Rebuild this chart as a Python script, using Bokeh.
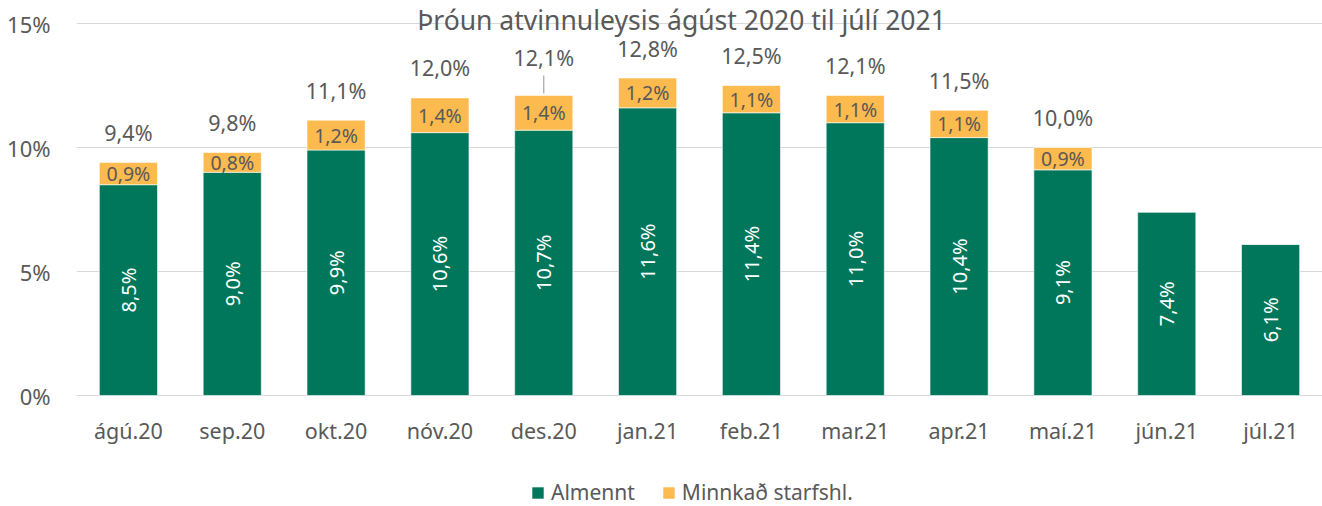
import math
from bokeh.plotting import figure
from bokeh.models import ColumnDataSource, Label, Legend, LegendItem, FixedTicker, Range1d
from bokeh.core.properties import value
from bokeh.embed import file_html
from bokeh.resources import INLINE

months = ["ágú.20", "sep.20", "okt.20", "nóv.20", "des.20", "jan.21",
          "feb.21", "mar.21", "apr.21", "maí.21", "jún.21", "júl.21"]
almennt = [8.5, 9.0, 9.9, 10.6, 10.7, 11.6, 11.4, 11.0, 10.4, 9.1, 7.4, 6.1]
minnkad = [0.9, 0.8, 1.2, 1.4, 1.4, 1.2, 1.1, 1.1, 1.1, 0.9, 0.0, 0.0]
totals = [9.4, 9.8, 11.1, 12.0, 12.1, 12.8, 12.5, 12.1, 11.5, 10.0, None, None]
y_ticks = [0, 5, 10, 15]
series_names = ["Almennt", "Minnkað starfshl."]
title_text = "Þróun atvinnuleysis ágúst 2020 til júlí 2021"

GREEN = "#00775A"
ORANGE = "#FDBA4E"
GREY = "#595959"
FONT = "Noto Sans"

W, H = 1322, 506
LEFT = 76
Y0_PX, Y15_PX = 395, 23           # pixel rows of 0% and 15%
PXU = (Y0_PX - Y15_PX) / 15.0      # pixels per percentage point

p = figure(x_range=months,
           y_range=Range1d(-(H - Y0_PX) / PXU, 15 + Y15_PX / PXU),
           width=W, height=H, output_backend="svg", toolbar_location=None,
           min_border_left=LEFT, min_border_right=0, min_border_top=0,
           min_border_bottom=0)
p.outline_line_color = None
p.background_fill_color = "white"
p.x_range.range_padding = 0

def fmt(v):
    return ("%.1f" % v).replace(".", ",") + "%"

src = ColumnDataSource(dict(
    m=months, a=almennt, b=minnkad,
    a_mid=[v / 2 for v in almennt],
    b_mid=[a + b / 2 for a, b in zip(almennt, minnkad)],
    a_lab=[fmt(v) for v in almennt],
    b_lab=[fmt(v) if v > 0 else "" for v in minnkad],
))

r = p.vbar_stack(["a", "b"], x="m", width=0.56, source=src,
                 color=[GREEN, ORANGE], line_color="white", line_width=0.6)

# green segment labels (rotated)
p.text(x="m", y="a_mid", text="a_lab", source=src, angle=math.pi / 2,
       text_align="center", text_baseline="middle", text_color="white",
       text_font=value(FONT), text_font_size="20px")
# orange segment labels
p.text(x="m", y="b_mid", text="b_lab", source=src,
       text_align="center", text_baseline="middle", text_color=GREY,
       text_font=value(FONT), text_font_size="19.5px")

# total labels
tm, tv, tl, toff = [], [], [], []
for m, t in zip(months, totals):
    if t is None:
        continue
    tm.append(m); tv.append(t); tl.append(fmt(t))
    toff.append(-38 if m == "des.20" else -30)
tsrc = ColumnDataSource(dict(m=tm, t=tv, l=tl, off=toff))
p.text(x="m", y="t", text="l", source=tsrc, y_offset="off",
       text_align="center", text_baseline="middle", text_color=GREY,
       text_font=value(FONT), text_font_size="21.5px")

# leader line for des.20
i = months.index("des.20")
t = totals[i]
p.segment(x0=[months[i]], y0=[t + 2 / PXU], x1=[months[i]],
          y1=[t + 20 / PXU], line_color="#A6A6A6", line_width=1.2)

# category labels (drawn as text under the 0% line)
p.text(x=months, y=[-(430 - Y0_PX) / PXU] * len(months), text=months,
       text_align="center", text_baseline="alphabetic", text_color=GREY,
       text_font=value(FONT), text_font_size="21.5px")

# title
p.add_layout(Label(x=681 - LEFT, x_units="screen",
                   y=15 + (Y15_PX - 19) / PXU, text=title_text,
                   text_align="center", text_baseline="alphabetic",
                   text_color=GREY, text_font=FONT, text_font_size="26.5px"))

# axes
p.xaxis.visible = False
p.yaxis.ticker = FixedTicker(ticks=y_ticks)
p.yaxis.major_label_overrides = {v: "%d%%" % v for v in y_ticks}
p.yaxis.axis_line_color = None
p.yaxis.major_tick_line_color = None
p.yaxis.minor_tick_line_color = None
p.yaxis.major_label_text_font = FONT
p.yaxis.major_label_text_font_size = "22px"
p.yaxis.major_label_text_color = GREY
p.yaxis.major_label_standoff = 20

p.xgrid.grid_line_color = None
p.ygrid.grid_line_color = "#D9D9D9"
p.ygrid.ticker = FixedTicker(ticks=y_ticks)

legend = Legend(items=[LegendItem(label=series_names[0], renderers=[r[0]]),
                       LegendItem(label=series_names[1], renderers=[r[1]])],
                orientation="horizontal", location=(530 - LEFT, 0),
                glyph_width=15, glyph_height=15, label_standoff=6, spacing=26,
                padding=0, margin=0, border_line_color=None,
                background_fill_alpha=0, label_text_font=FONT,
                label_text_font_size="21px", label_text_color=GREY,
                label_height=15)
p.add_layout(legend, "center")

open("out.html", "w").write(file_html(p, INLINE))
